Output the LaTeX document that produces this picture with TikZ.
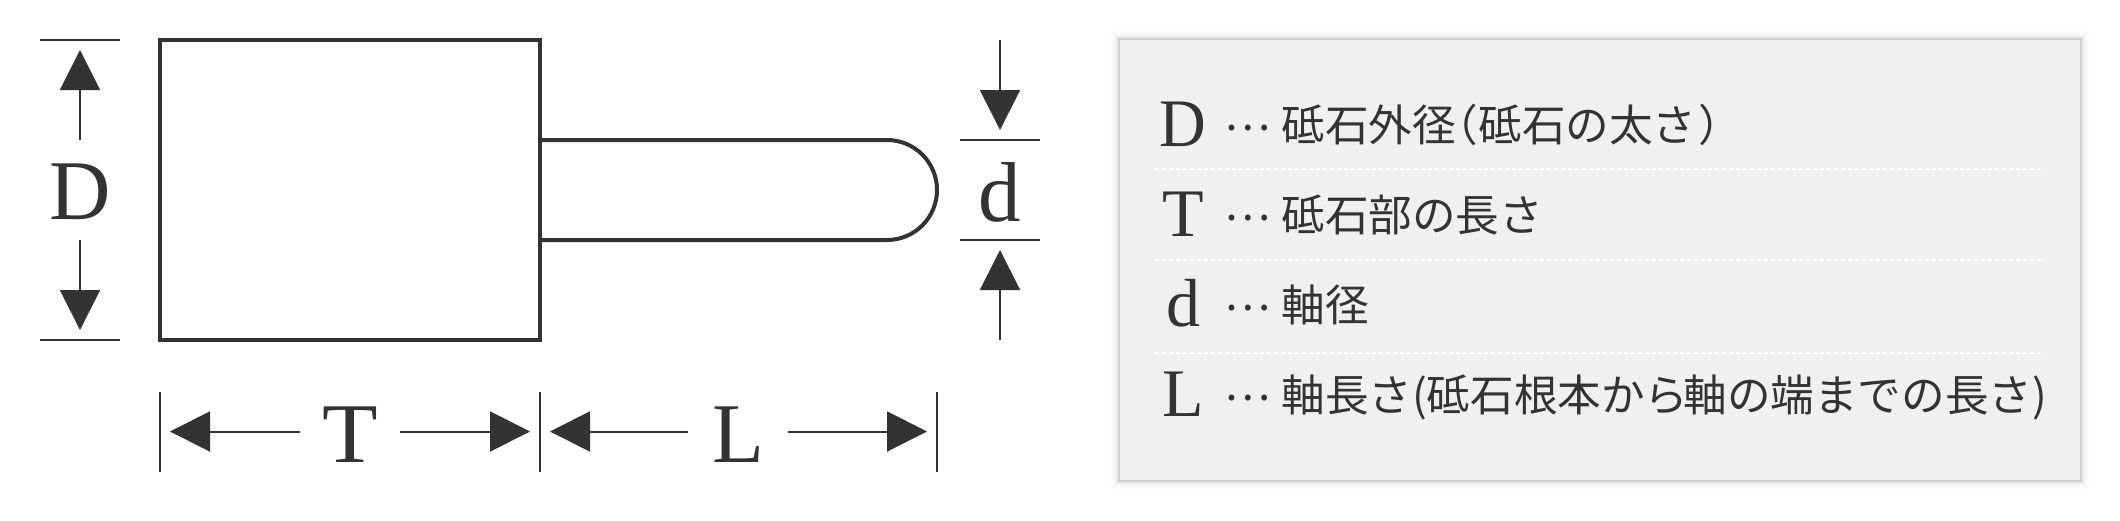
\documentclass[tikz,border=0pt]{standalone}
\usepackage{fontspec}
\setmainfont{Liberation Serif}
\newfontfamily\cjk{Noto Sans CJK JP}
\usetikzlibrary{arrows.meta}
\definecolor{ink}{HTML}{333333}
\definecolor{panelgray}{HTML}{F0F0F0}
\tikzset{
  x=0.5pt,y=-0.5pt,
  dimline/.style={draw=ink,line width=1pt,-{Triangle[length=20pt,width=20pt,fill=ink]}},
  tickline/.style={draw=ink,line width=1pt},
  partline/.style={draw=ink,line width=2pt},
  biglabel/.style={text=ink,inner sep=0pt,anchor=base,font=\fontsize{42.5pt}{42.5pt}\selectfont},
  keylabel/.style={text=ink,inner sep=0pt,anchor=base,font=\fontsize{34pt}{34pt}\selectfont},
  desc/.style={text=ink,inner sep=0pt,anchor=base west,font=\cjk\fontsize{21.8pt}{21.8pt}\selectfont},
  sepline/.style={draw=white,line width=1pt,dash pattern=on 2pt off 1.5pt},
}
\begin{document}
\begin{tikzpicture}
\useasboundingbox (0,0) rectangle (2120,520);
\fill[white] (0,0) rectangle (2120,520);
% grinding stone and shaft
\node[partline,minimum width=190pt,minimum height=150pt,inner sep=0pt] (stone) at (350,190) {};
\coordinate (shafttop) at (540,140);
\coordinate (shaftbot) at (540,240);
\draw[partline] (shafttop) -- (887,140) arc[start angle=-90,end angle=90,radius=50] -- (shaftbot);
% D dimension
\node[biglabel] (labD) at (80,219) {D};
\coordinate (Dt1) at (40,40); \coordinate (Dt2) at (120,40);
\coordinate (Db1) at (40,340); \coordinate (Db2) at (120,340);
\draw[tickline] (Dt1) -- (Dt2);
\draw[tickline] (Db1) -- (Db2);
\coordinate (Da1) at (80,140); \coordinate (Da1t) at (80,50);
\coordinate (Da2) at (80,240); \coordinate (Da2t) at (80,330);
\draw[dimline] (Da1) -- (Da1t);
\draw[dimline] (Da2) -- (Da2t);
% d dimension
\node[biglabel] (labd) at (1000,221) {d};
\coordinate (dt1) at (960,140); \coordinate (dt2) at (1040,140);
\coordinate (db1) at (960,240); \coordinate (db2) at (1040,240);
\draw[tickline] (dt1) -- (dt2);
\draw[tickline] (db1) -- (db2);
\coordinate (da1) at (1000,40); \coordinate (da1t) at (1000,130);
\coordinate (da2) at (1000,340); \coordinate (da2t) at (1000,250);
\draw[dimline] (da1) -- (da1t);
\draw[dimline] (da2) -- (da2t);
% T and L dimensions
\node[biglabel,xscale=1.07,transform shape] (labT) at (350,462) {T};
\node[biglabel] (labL) at (738,462) {L};
\coordinate (v1a) at (160,391.5); \coordinate (v1b) at (160,471.5);
\coordinate (v2a) at (540,391.5); \coordinate (v2b) at (540,471.5);
\coordinate (v3a) at (937,391.5); \coordinate (v3b) at (937,471.5);
\draw[tickline] (v1a) -- (v1b);
\draw[tickline] (v2a) -- (v2b);
\draw[tickline] (v3a) -- (v3b);
\coordinate (Ta1) at (300,431.5); \coordinate (Ta1t) at (170,431.5);
\coordinate (Ta2) at (400,431.5); \coordinate (Ta2t) at (530,431.5);
\coordinate (La1) at (688,431.5); \coordinate (La1t) at (550,431.5);
\coordinate (La2) at (788,431.5); \coordinate (La2t) at (927,431.5);
\draw[dimline] (Ta1) -- (Ta1t);
\draw[dimline] (Ta2) -- (Ta2t);
\draw[dimline] (La1) -- (La1t);
\draw[dimline] (La2) -- (La2t);
% panel with soft shadow
\foreach \s/\o in {10/0.008,8/0.012,6/0.018,4/0.03,3/0.04,2/0.05,1/0.05}{
  \fill[black,opacity=\o] (1120-\s,40-\s) rectangle (2080+\s,480+\s);
}
\fill[panelgray] (1120,40) rectangle (2080,480);
\coordinate (s1a) at (1155,169); \coordinate (s1b) at (2045,169);
\coordinate (s2a) at (1155,259.5); \coordinate (s2b) at (2045,259.5);
\coordinate (s3a) at (1155,352.5); \coordinate (s3b) at (2045,352.5);
\draw[sepline] (s1a) -- (s1b);
\draw[sepline] (s2a) -- (s2b);
\draw[sepline] (s3a) -- (s3b);
% key
\node[keylabel,xscale=0.95,transform shape] (k1) at (1183,146) {D};
\node[keylabel] (k2) at (1183,236) {T};
\node[keylabel] (k3) at (1183,326) {d};
\node[keylabel] (k4) at (1183,416) {L};
\node[desc] (e1) at (1224,130) {…};
\node[desc] (e2) at (1224,220) {…};
\node[desc] (e3) at (1224,310) {…};
\node[desc] (e4) at (1224,400) {…};
\node[desc] (t1) at (1281,141) {砥石外径\kern-10.5pt（砥石の太さ\kern1.2pt）};
\node[desc] (t2) at (1281,231) {砥石部の長さ};
\node[desc] (t3) at (1281,321) {軸径};
\node[desc] (t4) at (1281,411) {軸長さ(砥石根本から\kern-2.5pt軸の端までの長さ)};
\end{tikzpicture}
\end{document}
